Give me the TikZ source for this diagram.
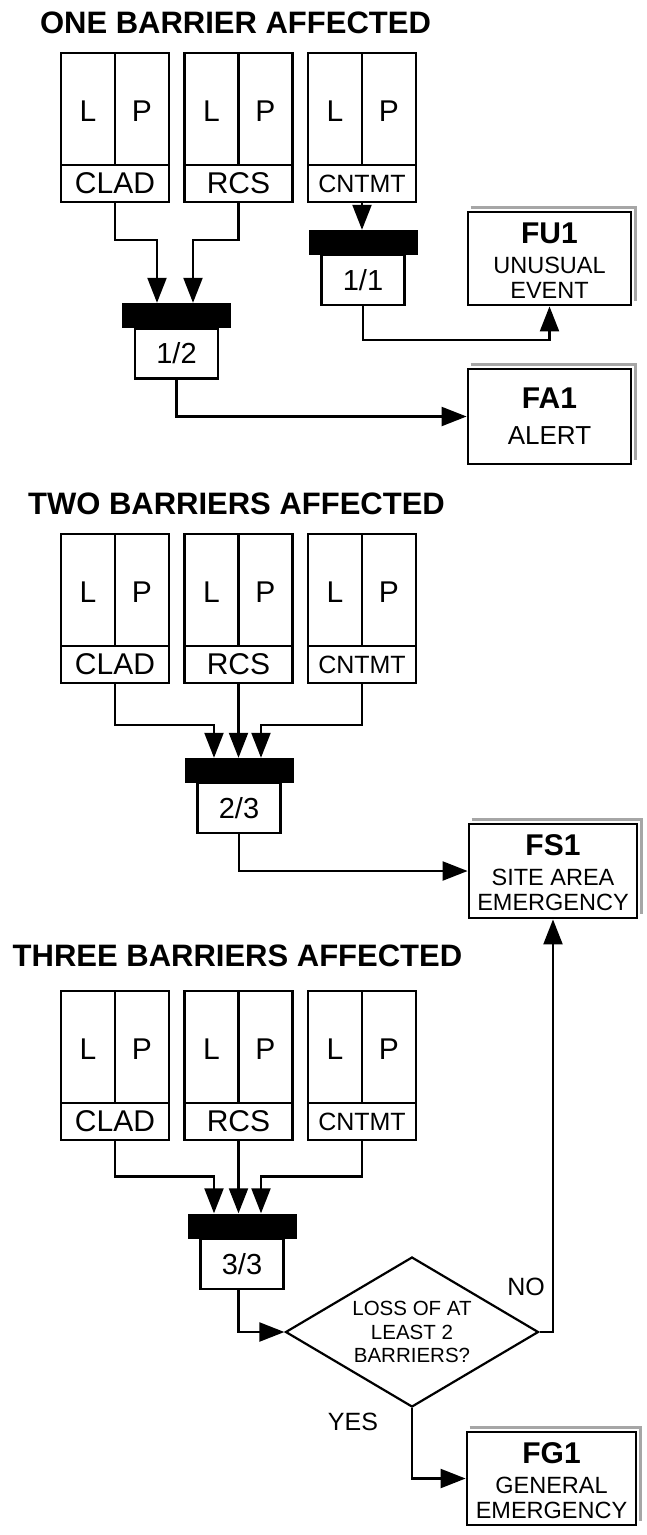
\documentclass[tikz,border=0pt]{standalone}
\usepackage{fontspec}
\setmainfont{Liberation Sans}
\usetikzlibrary{arrows.meta,shapes.geometric}
\newcommand\fsz[2]{\fontsize{#1}{#2}\selectfont}
% #1 name, #2 centre x, #3 top y, #4 label, #5 label style
\newcommand\barrierbox[5]{%
  \node[bx] (#1) at (#2,#3+74.5) {};
  \draw[ln] (#2-54,#3+112) -- (#2+54,#3+112);
  \draw[ln] (#2,#3) -- (#2,#3+112);
  \node[lp] (#1L) at (#2-27,#3+58) {L};
  \node[lp] (#1P) at (#2+27,#3+58) {P};
  \node[#5] (#1lab) at (#2,#3+130.5) {#4};
}
\begin{document}
\begin{tikzpicture}[x=1pt,y=-1pt,
  ln/.style={line width=2.2pt},
  arr/.style={line width=2.2pt,-{Triangle[length=25pt,width=19pt]}},
  bx/.style={draw,line width=2.2pt,minimum width=108pt,minimum height=149pt,inner sep=0pt},
  lp/.style={font=\fsz{30}{30},inner sep=0pt},
  lab/.style={font=\fsz{30}{30},inner sep=0pt},
  labs/.style={font=\fsz{25}{25},inner sep=0pt},
  gbar/.style={fill=black,minimum width=109pt,minimum height=25pt,inner sep=0pt},
  gbx/.style={draw,line width=2.2pt,minimum width=83pt,minimum height=50pt,inner sep=0pt,font=\fsz{29}{29}},
  res/.style={draw,fill=white,line width=2.8pt,inner sep=0pt},
  rtt/.style={font=\bfseries\fsz{30}{30},inner sep=0pt},
  rts/.style={font=\fsz{23.5}{23.5},inner sep=0pt},
  ttl/.style={font=\bfseries\fsz{31}{31},inner sep=0pt},
  shd/.style={line width=3pt,black!35},
  yn/.style={font=\fsz{25}{25},inner sep=0pt},
]
\useasboundingbox (0,0) rectangle (647,1535);

% ---------------- ONE BARRIER ----------------
\node[ttl] (t1) at (235.5,23) {ONE BARRIER AFFECTED};
\barrierbox{c1}{115}{53}{CLAD}{lab}
\barrierbox{r1}{238.5}{53}{RCS}{lab}
\barrierbox{n1}{362}{53}{CNTMT}{labs}

\node[gbar] (g1bar) at (176.5,315.5) {};
\node[gbx] (g1) at (176.5,353.5) {1/2};
\node[gbar] (g11bar) at (363,242.5) {};
\node[gbx] (g11) at (363,280) {1/1};

\node[res,minimum width=163pt,minimum height=93pt] (fu1) at (549.5,258.5) {};
\draw[shd] ([shift={(4,-2.9)}]fu1.north west) -- ([shift={(2.9,-2.9)}]fu1.north east) -- ([shift={(2.9,-5)}]fu1.south east);
\node[rtt] (fu1a) at (549.5,233) {FU1};
\node[rts] (fu1b) at (549.5,265) {UNUSUAL};
\node[rts] (fu1c) at (549.5,290) {EVENT};

\node[res,minimum width=163pt,minimum height=95pt] (fa1) at (549.5,416.5) {};
\draw[shd] ([shift={(4,-2.9)}]fa1.north west) -- ([shift={(2.9,-2.9)}]fa1.north east) -- ([shift={(2.9,-5)}]fa1.south east);
\node[rtt] (fa1a) at (549.5,398) {FA1};
\node[font=\fsz{26}{26},inner sep=0pt] (fa1b) at (549.5,436) {ALERT};

\coordinate (h1a) at (157,240);
\coordinate (h1b) at (193,240);
\coordinate (k1) at (363,340);
\draw[arr] (c1.south) |- (h1a) -- (h1a |- g1bar.north);
\draw[arr] (r1.south) |- (h1b) -- (h1b |- g1bar.north);
\draw[arr] (n1.south) -- (n1.south |- g11bar.north);
\draw[arr] (g11.south) -- (k1) -| (fu1.south);
\draw[arr] (g1.south) |- (fa1.west);

% ---------------- TWO BARRIERS ----------------
\node[ttl] (t2) at (236.5,504) {TWO BARRIERS AFFECTED};
\barrierbox{c2}{115}{534}{CLAD}{lab}
\barrierbox{r2}{238.5}{534}{RCS}{lab}
\barrierbox{n2}{362}{534}{CNTMT}{labs}

\node[gbar] (g2bar) at (239,770.5) {};
\node[gbx] (g2) at (239,808) {2/3};

\node[res,minimum width=168pt,minimum height=94pt] (fs1) at (553,871) {};
\draw[shd] ([shift={(4,-2.9)}]fs1.north west) -- ([shift={(2.9,-2.9)}]fs1.north east) -- ([shift={(2.9,-5)}]fs1.south east);
\node[rtt] (fs1a) at (553,845) {FS1};
\node[rts] (fs1b) at (553,877) {SITE AREA};
\node[rts] (fs1c) at (553,902) {EMERGENCY};

\coordinate (h2a) at (214,725);
\coordinate (h2c) at (261,725);
\draw[arr] (c2.south) |- (h2a) -- (h2a |- g2bar.north);
\draw[arr] (r2.south) -- (r2.south |- g2bar.north);
\draw[arr] (n2.south) |- (h2c) -- (h2c |- g2bar.north);
\draw[arr] (g2.south) |- (fs1.west);

% ---------------- THREE BARRIERS ----------------
\node[ttl] (t3) at (237.5,956) {THREE BARRIERS AFFECTED};
\barrierbox{c3}{115}{991}{CLAD}{lab}
\barrierbox{r3}{238.5}{991}{RCS}{lab}
\barrierbox{n3}{362}{991}{CNTMT}{labs}

\node[gbar] (g3bar) at (242,1226) {};
\node[gbx] (g3) at (242,1264) {3/3};

\node[draw,diamond,line width=2.2pt,minimum width=253pt,minimum height=150pt,inner sep=0pt] (dia) at (412,1332) {};
\node[font=\fsz{20.5}{23.5},align=center,inner sep=0pt] (diat) at (412,1332) {LOSS OF AT\\LEAST 2\\BARRIERS?};

\node[res,minimum width=169pt,minimum height=93pt] (fg1) at (551.5,1478.5) {};
\draw[shd] ([shift={(4,-2.9)}]fg1.north west) -- ([shift={(2.9,-2.9)}]fg1.north east) -- ([shift={(2.9,-5)}]fg1.south east);
\node[rtt] (fg1a) at (551.5,1453) {FG1};
\node[rts] (fg1b) at (551.5,1485) {GENERAL};
\node[rts] (fg1c) at (551.5,1510) {EMERGENCY};

\node[yn] (no) at (526,1287) {NO};
\node[yn] (yes) at (353,1422) {YES};

\coordinate (h3a) at (214,1176.5);
\coordinate (h3c) at (261,1176.5);
\draw[arr] (c3.south) |- (h3a) -- (h3a |- g3bar.north);
\draw[arr] (r3.south) -- (r3.south |- g3bar.north);
\draw[arr] (n3.south) |- (h3c) -- (h3c |- g3bar.north);
\draw[arr] (g3.south -| r3.south) |- (dia.west);
\draw[arr] (dia.east) -| (fs1.south);
\draw[arr] (dia.south) |- (fg1.west);
\end{tikzpicture}
\end{document}
